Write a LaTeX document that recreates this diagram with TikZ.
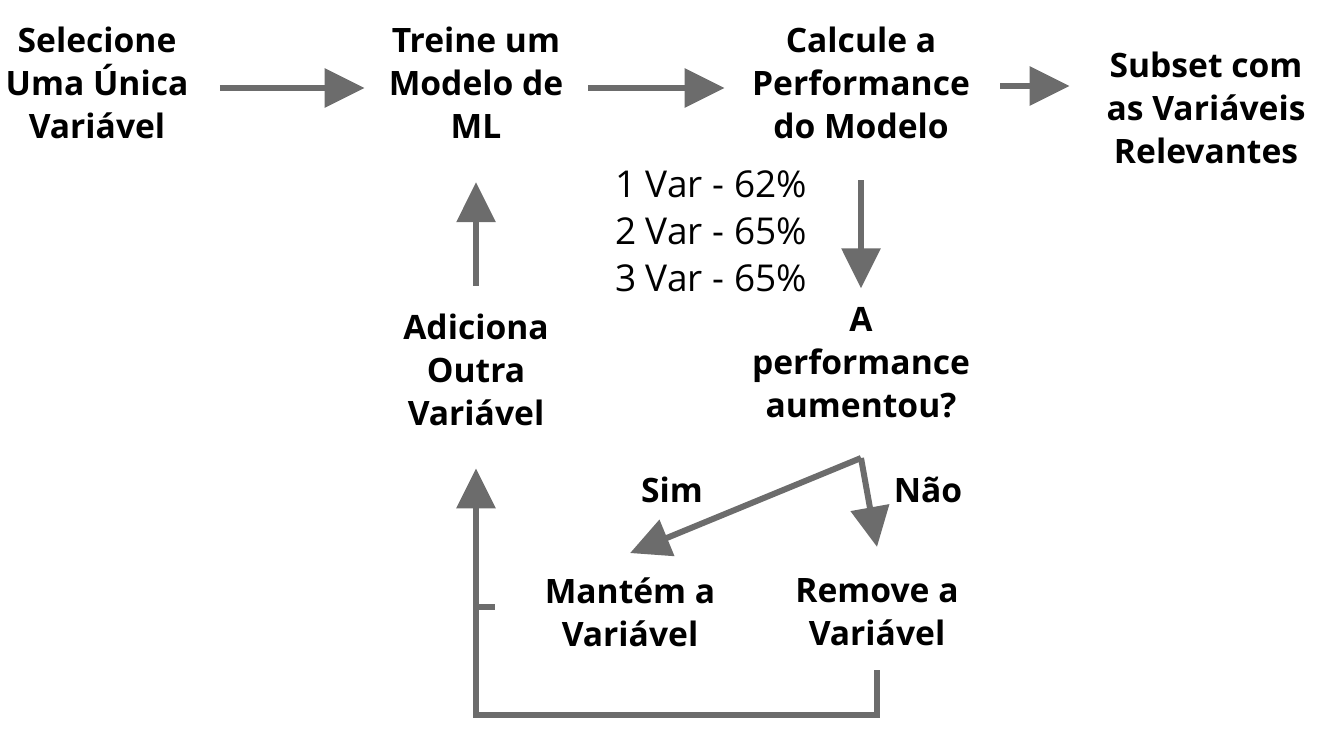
\documentclass[tikz,border=0pt]{standalone}
\usepackage{fontspec}
\setmainfont{Open Sans}
\usetikzlibrary{arrows.meta}
\definecolor{arrgray}{RGB}{108,108,108}
\begin{document}
\begin{tikzpicture}[x=0.5pt,y=-0.5pt,
		txt/.style={font=\bfseries\fontsize{16.8}{21.5}\selectfont,align=center,inner sep=0pt},
		val/.style={font=\fontsize{18.5}{23.5}\selectfont,align=center,inner sep=0pt},
		arr/.style={draw=arrgray,line width=3pt,-{Triangle[length=20pt,width=19pt]}}]
		\useasboundingbox (0,0) rectangle (1320,730);
		\node[txt,minimum width=92.5pt] (sel) at (97,83) {Selecione\\Uma Única\\Variável};
		\node[txt,minimum width=88.5pt] (treine) at (476,83) {Treine um\\Modelo de\\ML};
		\node[txt,minimum width=109pt] (calc) at (861,83) {Calcule a\\Performance\\do Modelo};
		\node[txt,minimum width=101.5pt] (subset) at (1206,108) {Subset com\\as Variáveis\\Relevantes};
		\node[val] (vals) at (711,231) {1 Var - 62\%\\2 Var - 65\%\\3 Var - 65\%};
		\node[txt,minimum width=75pt] (adic) at (476,370) {Adiciona\\Outra\\Variável};
		\node[txt,minimum width=109pt] (dec) at (861,363) {A\\performance\\aumentou?};
		\node[txt,minimum width=84pt] (mant) at (630,612) {Mantém a\\Variável};
		\node[txt,minimum width=82.5pt] (rem) at (877,612) {Remove a\\Variável};
		\node[txt] (sim) at (672,490) {Sim};
		\node[txt] (nao) at (928,490) {Não};
		\coordinate (fork) at (861,458);
		\coordinate (low) at (476,715);
		% fluxo principal
		\draw[arr,shorten <=15pt,shorten >=11.25pt] ([yshift=-2.5pt]sel.east) -- ([yshift=-2.5pt]treine.west);
		\draw[arr,shorten <=11.75pt,shorten >=13.5pt] ([yshift=-2.5pt]treine.east) -- ([yshift=-2.5pt]calc.west);
		\draw[arr,shorten <=15pt,shorten >=17.25pt] ([yshift=-1.5pt]calc.east) -- ([yshift=11pt]subset.west);
		\draw[arr,shorten <=20.5pt,shorten >=9.5pt] (calc.south) -- (dec.north);
		\draw[arr,shorten <=14pt,shorten >=21.5pt] (adic.north) -- (treine.south);
		% decisao
		\draw[arr] (fork) -- ([yshift=12pt]mant.north);
		\draw[arr] (fork) -- ([yshift=15.5pt]rem.north);
		\draw[arr,shorten <=12pt,shorten >=21pt] (rem.south) |- (low) -- (adic.south);
		\draw[draw=arrgray,line width=3pt] (476,607) -- (495,607);
\end{tikzpicture}
\end{document}
